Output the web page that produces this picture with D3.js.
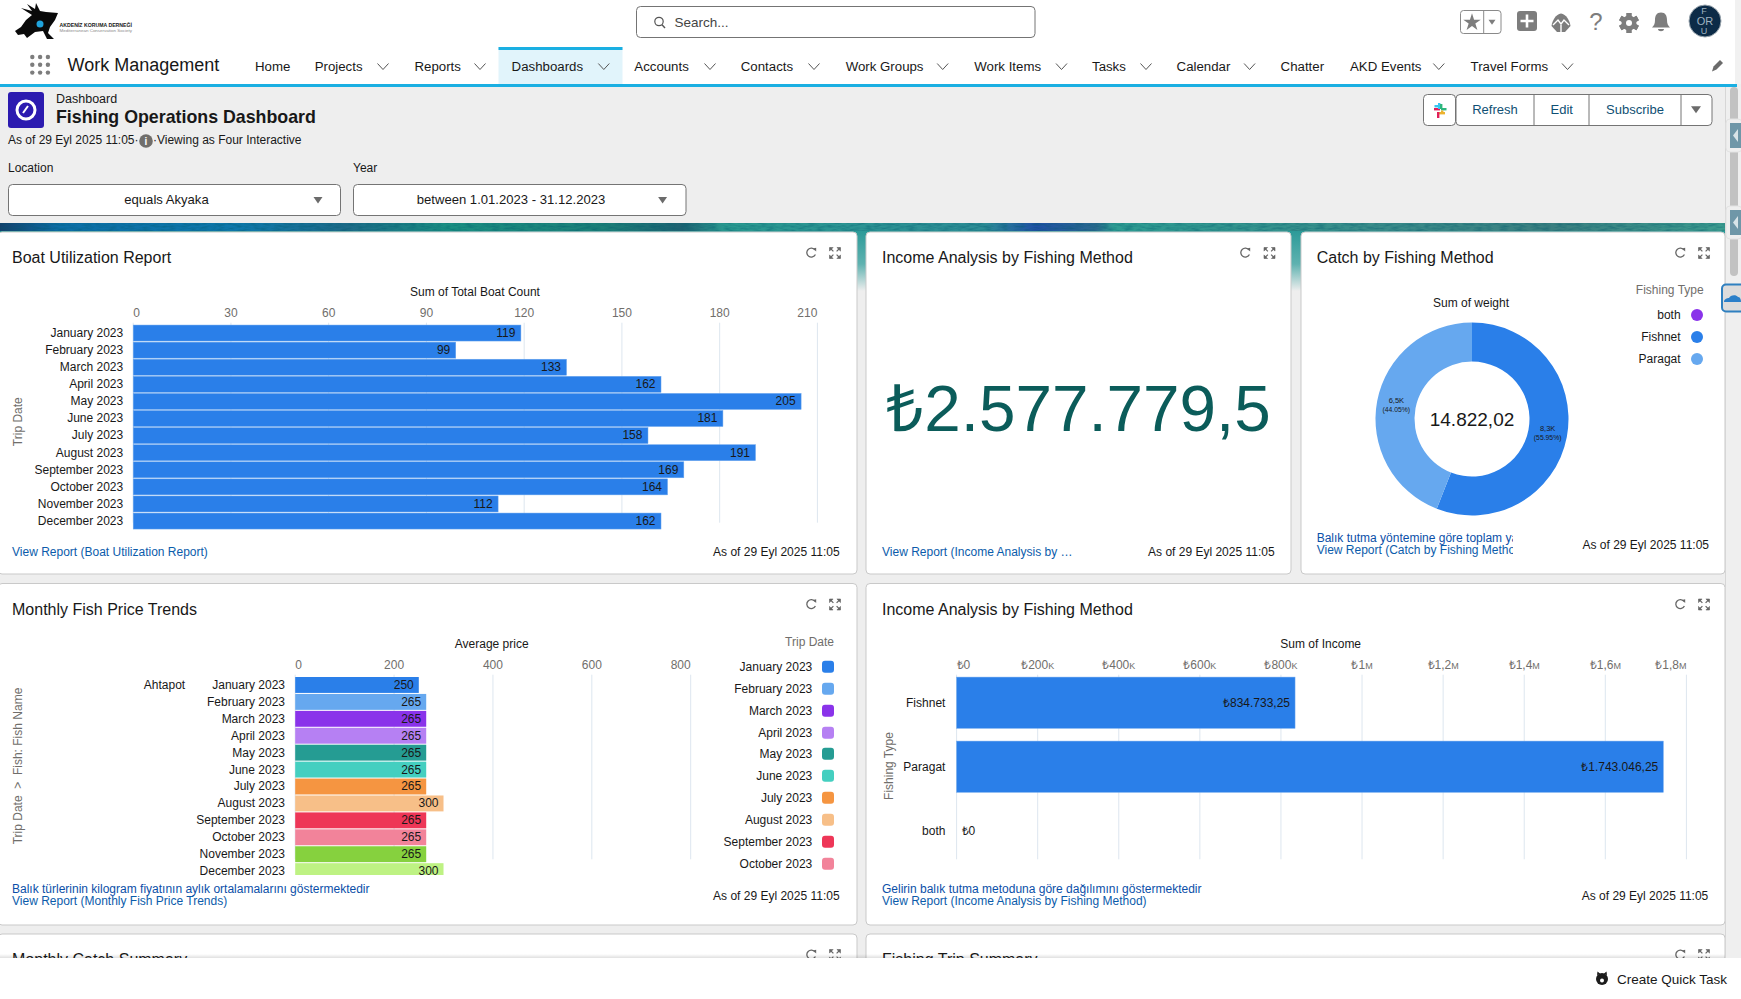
<!DOCTYPE html>
<html><head><meta charset="utf-8">
<script src="https://cdn.jsdelivr.net/npm/d3@7"></script>
<style>
html,body{margin:0;padding:0;background:#eee;overflow:hidden}
svg{display:block;font-family:"Liberation Sans",Arial,sans-serif}
</style></head><body><div id="c"></div>
<script>
// ---------- data ----------
const months=["January 2023","February 2023","March 2023","April 2023","May 2023","June 2023","July 2023","August 2023","September 2023","October 2023","November 2023","December 2023"];
const boatCounts=[119,99,133,162,205,181,158,191,169,164,112,162];
const boatTicks=[0,30,60,90,120,150,180,210];
const fishPrices=[250,265,265,265,265,265,265,300,265,265,265,300];
const priceTicks=[0,200,400,600,800];
const monthColors=["#2a7fe9","#66a8ef","#8a33ea","#b680f3","#259c93","#44cfc0","#f59541","#f7bf88","#ee3657","#f2839a","#86d13e","#bef283"];
const fishingTypes=["Fishnet","Paragat","both"];
const incomes=[834733.25,1743046.25,0];
const incomeLabels=["₺834.733,25","₺1.743.046,25","₺0"];
const incomeTicks=[0,200000,400000,600000,800000,1000000,1200000,1400000,1600000,1800000];
const incomeTickLabels=["₺0","₺200K","₺400K","₺600K","₺800K","₺1M","₺1,2M","₺1,4M","₺1,6M","₺1,8M"];
const weightTypes=["Fishnet","Paragat"];
const weights=[8292.9,6529.12];
const weightLabels=[["8,3K","(55.95%)"],["6,5K","(44.05%)"]];
const legendTypes=["both","Fishnet","Paragat"];
const legendTypeColors=["#8a33ea","#2a7fe9","#66a8ef"];
const navItems=["Home","Projects","Reports","Dashboards","Accounts","Contacts","Work Groups","Work Items","Tasks","Calendar","Chatter","AKD Events","Travel Forms"];
const navX=[255,314.7,414.5,511.6,634.3,740.8,845.7,974.3,1092,1176.6,1280.6,1350,1470.6];
const navChev=[null,383,480,603.8,710,814,942.7,1061.5,1146,1249.6,null,1438.8,1567.5];

// ---------- helpers ----------
const W=1741,H=999,INK="#181818",GREY="#706e6b",GRID="#dde6ef",LINK="#0b5cab",LINK2="#0b4fa8",EDGE="#6aa6ee";
const svg=d3.select("#c").append("svg").attr("width",W).attr("height",H);
const defs=svg.append("defs");
function txt(p,x,y,s,o={}){
  const t=p.append("text").attr("x",x).attr("y",y).attr("dy",".35em").text(s)
    .attr("font-size",o.size||12).attr("fill",o.fill||INK).attr("text-anchor",o.anchor||"start");
  if(o.weight)t.attr("font-weight",o.weight);
  if(o.rotate)t.attr("transform",`rotate(${o.rotate} ${x} ${y})`);
  if(o.len)t.attr("textLength",o.len).attr("lengthAdjust","spacingAndGlyphs");
  return t;
}
function rect(p,x,y,w,h,o={}){
  return p.append("rect").attr("x",x).attr("y",y).attr("width",w).attr("height",h)
    .attr("rx",o.r||0).attr("fill",o.fill||"none").attr("stroke",o.stroke||"none").attr("stroke-width",o.sw||1);
}
function chevron(p,x,y){p.append("path").attr("d",`M${x-5.5},${y-3}L${x},${y+3}L${x+5.5},${y-3}`).attr("fill","none").attr("stroke","#555").attr("stroke-width",1)}
function caret(p,x,y,c="#6b6b6b",s=4.5){p.append("path").attr("d",`M${x-s},${y-s*.65}L${x+s},${y-s*.65}L${x},${y+s*.75}Z`).attr("fill",c)}
function clip(id,x,y,w,h){defs.append("clipPath").attr("id",id).append("rect").attr("x",x).attr("y",y).attr("width",w).attr("height",h)}
function cardIcons(p,x1,x2,y){
  p.append("path").attr("d",`M${x1+4},${y-3}A4.5,4.5 0 1 0 ${x1+4.4},${y+1.5}`).attr("fill","none").attr("stroke","#666").attr("stroke-width",1.3);
  p.append("path").attr("d",`M${x1+1.8},${y-4.6}L${x1+5.2},${y-5.2}L${x1+5.2},${y-1.6}Z`).attr("fill","#666");
  [[-1,-1],[1,-1],[-1,1],[1,1]].forEach(([a,b])=>{
    p.append("path").attr("d",`M${x2+a*5.5},${y+b*5.5}l${-a*3.6},0l${a*3.6},${-b*3.6}Z`).attr("fill","#666").attr("stroke","#666").attr("stroke-width",.6);
    p.append("path").attr("d",`M${x2+a*5},${y+b*5}L${x2+a*1.6},${y+b*1.6}`).attr("stroke","#666").attr("stroke-width",1.2);
  });
}
function xAxis(p,scale,ticks,labels,tickY,gridTop,gridBottom){
  const ax=d3.axisTop(scale).tickValues(ticks).tickSize(0).tickPadding(0).offset(0);
  if(labels)ax.tickFormat((d,i)=>labels[i]);
  const g=p.append("g").attr("transform",`translate(0,${tickY+4})`).call(ax);
  g.select(".domain").remove();
  g.selectAll("text").attr("font-size",12).attr("font-family","inherit").attr("fill",GREY)
    .attr("text-anchor",(d,i)=>i===0?"start":i===ticks.length-1?"end":"middle");
  g.selectAll("text").each(function(){
    const s=d3.select(this),v=s.text(),m=v.match(/^(.*)([KM])$/);
    if(m){s.text(m[1]);s.append("tspan").attr("font-size",9).text(m[2]);}
  });
  p.insert("g",":first-child").selectAll("line").data(ticks).join("line")
    .attr("x1",d=>scale(d)).attr("x2",d=>scale(d)).attr("y1",gridTop).attr("y2",gridBottom)
    .attr("stroke",GRID).attr("stroke-width",1);
}
function card(x,y,w,h,title,ix1,ix2,tx){
  rect(svg,x,y,w,h,{r:4,fill:"#fff",stroke:"#c9c9c9"});
  if(title)txt(svg,tx,y+25.5,title,{size:16});
  cardIcons(svg,ix1,ix2,y+21);
}

// ---------- page ----------
rect(svg,0,0,W,H,{fill:"#eee"});
const band=defs.append("linearGradient").attr("id","band");
[[0,"#14406c"],[.035,"#0c6ea6"],[.14,"#0f78ab"],[.2,"#1d6a88"],[.26,"#1a8f82"],[.35,"#1c7f78"],[.395,"#1e6272"],[.42,"#2a9a90"],[.57,"#2d8d96"],[.6,"#1f4fa5"],[.635,"#2a6a8e"],[.645,"#2d9c92"],[.8,"#3a8c8a"],[.9,"#3a7f80"],[1,"#3c9c8f"]]
 .forEach(([o,c])=>band.append("stop").attr("offset",o).attr("stop-color",c));
rect(svg,0,223,1727,9,{fill:"url(#band)"});
const noise=defs.append("filter").attr("id","grain").attr("x",0).attr("y",0).attr("width",1).attr("height",1);
noise.append("feTurbulence").attr("type","fractalNoise").attr("baseFrequency","0.12 0.5").attr("numOctaves",2).attr("seed",4);
noise.append("feColorMatrix").attr("values","0 0 0 0 0  0 0 0 0 0.1  0 0 0 0 0.15  1.6 0 0 0 -0.6");
rect(svg,0,223,1727,9,{fill:"#000"}).attr("filter","url(#grain)").attr("opacity",.55);
const fade=defs.append("linearGradient").attr("id","fade").attr("x2",0).attr("y2",1);
fade.append("stop").attr("offset",0).attr("stop-color","#2c9a98");
fade.append("stop").attr("offset",.55).attr("stop-color","#5fb2b0");
fade.append("stop").attr("offset",1).attr("stop-color","#eeeeee");
rect(svg,0,231,1727,60,{fill:"url(#fade)"});

// header
rect(svg,0,0,1735,84,{fill:"#fff"});
rect(svg,1735,0,6,84,{fill:"#f1f1f1"});
svg.append("path").attr("fill","#0a0a0a").attr("d","M15,31L21,27L26,20L32,15L21,8L32,11L27,4L35,9L36,3L40,11L46,12L58,13L55,20L50,27L48,33L54,39L47,39L43,31L35,32L27,38L24,34L18,35Z");
svg.append("circle").attr("cx",40).attr("cy",24).attr("r",3.5).attr("fill","#1fa3dc");
txt(svg,59.5,25,"AKDENİZ KORUMA DERNEĞİ",{size:5.3,weight:"bold",len:72.5});
txt(svg,59.5,30,"Mediterranean Conservation Society",{size:4.4,fill:"#8a8a8a",len:72.5});
rect(svg,636.5,6.5,398.5,31,{r:4,fill:"#fff",stroke:"#747474"});
svg.append("circle").attr("cx",659).attr("cy",21.5).attr("r",4.2).attr("fill","none").attr("stroke","#555").attr("stroke-width",1.2);
svg.append("line").attr("x1",662).attr("y1",24.8).attr("x2",665).attr("y2",28).attr("stroke","#555").attr("stroke-width",1.4);
txt(svg,674.5,22.5,"Search...",{size:13.5,fill:"#444"});
// right header icons
rect(svg,1460.5,10.5,40.5,23,{r:3,fill:"#fff",stroke:"#8a8a8a"});
svg.append("line").attr("x1",1483.7).attr("x2",1483.7).attr("y1",10.5).attr("y2",33.5).attr("stroke","#8a8a8a");
svg.append("path").attr("fill","#7d7d7d").attr("d",d3.symbol(d3.symbolStar,95)()).attr("transform","translate(1472,22.5)");
caret(svg,1492,22,"#7d7d7d",3.5);
rect(svg,1517,11,20,20,{r:3,fill:"#7d7d7d"});
svg.append("path").attr("d","M1527,14.5V27.5M1520.5,21H1533.5").attr("stroke","#fff").attr("stroke-width",2.6);
svg.append("path").attr("fill","#7d7d7d").attr("d","M1561,13.5C1566,14 1570,21 1570.5,26L1565,32H1557L1551.5,26C1552,21 1556,14 1561,13.5Z");
svg.append("path").attr("fill","none").attr("stroke","#fff").attr("stroke-width",1.4).attr("d","M1553,25L1558,20L1561,24L1564,20L1569,25M1561,25V32");
txt(svg,1596,22,"?",{size:24,fill:"#7d7d7d",anchor:"middle"});
d3.range(6).forEach(i=>rect(svg,1626.5,13,5,20,{fill:"#7d7d7d"}).attr("transform",`rotate(${i*60} 1629 23)`).attr("height",20));
svg.append("circle").attr("cx",1629).attr("cy",23).attr("r",7.5).attr("fill","#7d7d7d");
svg.append("circle").attr("cx",1629).attr("cy",23).attr("r",3).attr("fill","#fff");
svg.append("path").attr("fill","#7d7d7d").attr("d","M1661,12.5C1665.5,12.5 1667,16 1667,20C1667,24 1668,25.5 1670,27.5H1652C1654,25.5 1655,24 1655,20C1655,16 1656.5,12.5 1661,12.5ZM1658,29H1664C1664,32 1658,32 1658,29Z");
svg.append("circle").attr("cx",1705).attr("cy",21).attr("r",16).attr("fill","#0c2b47").attr("stroke","#9aa5ad");
txt(svg,1704,11,"F",{size:9,fill:"#9fb2c0",anchor:"middle"});
txt(svg,1705,21,"OR",{size:11,fill:"#9fb2c0",anchor:"middle"});
txt(svg,1704,31,"U",{size:9,fill:"#9fb2c0",anchor:"middle"});
// nav
rect(svg,498.5,47,124,37,{fill:"#e1f4fb"});
rect(svg,498.5,47,124,3,{fill:"#1aafe2"});
d3.range(3).forEach(i=>d3.range(3).forEach(j=>svg.append("circle").attr("cx",32.3+j*7.8).attr("cy",56.5+i*7.8+.5).attr("r",2.2).attr("fill","#7d7d7d")));
txt(svg,67.5,64.5,"Work Management",{size:18});
svg.selectAll(null).data(navItems).enter().each(function(d,i){txt(svg,navX[i],66.5,d,{size:13.25});if(navChev[i])chevron(svg,navChev[i],66.5)});
svg.append("path").attr("fill","#6b6b6b").attr("d","M1712,71.5L1713.5,66.5L1720,60L1723,63L1716.5,69.5Z");
rect(svg,0,84,1737,3,{fill:"#1aafe2"});

// page header
rect(svg,8,92,36,36,{r:3,fill:"#2c1bb0"});
svg.append("circle").attr("cx",26).attr("cy",110).attr("r",9).attr("fill","none").attr("stroke","#fff").attr("stroke-width",3);
svg.append("path").attr("d","M23,113L28,106").attr("stroke","#fff").attr("stroke-width",2);
txt(svg,56,98.5,"Dashboard",{size:12.5});
txt(svg,56,117,"Fishing Operations Dashboard",{size:17.8,weight:"bold"});
txt(svg,8,140,"As of 29 Eyl 2025 11:05·",{size:12});
svg.append("circle").attr("cx",146).attr("cy",141).attr("r",6.8).attr("fill",GREY);
txt(svg,146,141,"i",{size:10,weight:"bold",fill:"#fff",anchor:"middle"});
txt(svg,153,140,"·Viewing as Four Interactive",{size:12});
txt(svg,8,168,"Location",{size:12});
txt(svg,353,168,"Year",{size:12});
rect(svg,8.5,184.5,332,31,{r:4,fill:"#fff",stroke:"#747474"});
rect(svg,353.5,184.5,332.5,31,{r:4,fill:"#fff",stroke:"#747474"});
txt(svg,166.5,199.5,"equals Akyaka",{size:13.1,anchor:"middle"});
txt(svg,511,199.5,"between 1.01.2023 - 31.12.2023",{size:13.1,anchor:"middle"});
caret(svg,318,200); caret(svg,662.6,200);
// buttons
rect(svg,1423.5,94.5,32,31,{r:4,fill:"#fff",stroke:"#747474"});
[["#e01e5a",1434,108,6,2.4],["#36c5f0",1438,103,2.4,6],["#2eb67d",1441,108,5.5,2.4],["#ecb22e",1439,112,6,2.4],["#36c5f0",1434.5,105,5,2.4],["#e01e5a",1437,112,2.4,6],["#2eb67d",1440,104,2.4,5],["#ecb22e",1441,110.5,2.4,2.4]]
  .forEach(r=>rect(svg,r[1],r[2],r[3],r[4],{fill:r[0]}));
rect(svg,1456,94.5,256,31,{r:4,fill:"#fff",stroke:"#747474"});
svg.append("path").attr("d","M1534,94.5V125.5M1589,94.5V125.5M1681,94.5V125.5").attr("stroke","#747474");
[["Refresh",1495],["Edit",1561.7],["Subscribe",1635]].forEach(b=>txt(svg,b[1],109.5,b[0],{size:13,fill:"#0f4f73",anchor:"middle"}));
caret(svg,1696,109.5,"#6b6b6b",5);

// ---------- row 1 ----------
card(-2,232,859,342,"Boat Utilization Report",811,835,12);
card(866,232,425,342,"Income Analysis by Fishing Method",1245,1269.5,882);
card(1301,232,424,342,"Catch by Fishing Method",1680,1704,1316.7);

// boat chart
const boat=svg.append("g");
const xBoat=d3.scaleLinear().domain([0,210]).range([133.2,817.4]);
const yBoat=d3.scaleBand().domain(months).range([324.5,529.6]).paddingInner(.064).paddingOuter(.032);
xAxis(boat,xBoat,boatTicks,null,312.7,322.7,522.7);
txt(boat,475,291.7,"Sum of Total Boat Count",{anchor:"middle"});
boat.selectAll("rect.b").data(boatCounts).join("rect").attr("class","b")
  .attr("x",xBoat(0)).attr("y",(d,i)=>yBoat(months[i])).attr("width",d=>xBoat(d)-xBoat(0)).attr("height",yBoat.bandwidth())
  .attr("fill","#2a7fe9").attr("stroke",EDGE).attr("stroke-width",.5);
boatCounts.forEach((d,i)=>{
  txt(boat,xBoat(d)-5.5,yBoat(months[i])+7.7,d,{anchor:"end"});
  txt(boat,123.2,yBoat(months[i])+7.7,months[i],{anchor:"end"});
});
txt(boat,18,421.7,"Trip Date",{fill:GREY,anchor:"middle",rotate:-90});
txt(svg,12,551.7,"View Report (Boat Utilization Report)",{fill:LINK});
txt(svg,839.6,551.7,"As of 29 Eyl 2025 11:05",{anchor:"end"});

// KPI
txt(svg,1078.5,408,"₺2.577.779,5",{size:65.6,fill:"#0b5c5a",anchor:"middle"});
txt(svg,882,551.7,"View Report (Income Analysis by …",{fill:LINK});
txt(svg,1274.6,551.7,"As of 29 Eyl 2025 11:05",{anchor:"end"});

// donut
const donut=svg.append("g").attr("transform","translate(1472,419)");
const pie=d3.pie().sort(null)(weights);
const arc=d3.arc().innerRadius(57.5).outerRadius(96.5);
donut.selectAll("path").data(pie).join("path").attr("d",arc).attr("fill",(d,i)=>legendTypeColors[legendTypes.indexOf(weightTypes[i])]);
pie.forEach((p,i)=>{
  const [cx,cy]=arc.centroid(p);
  txt(donut,cx,cy-4.6,weightLabels[i][0],{size:7.5,anchor:"middle"});
  txt(donut,cx,cy+4.6,weightLabels[i][1],{size:6.8,anchor:"middle"});
});
txt(donut,0,0,"14.822,02",{size:19,anchor:"middle"});
txt(svg,1471,303,"Sum of weight",{anchor:"middle"});
txt(svg,1703.7,290,"Fishing Type",{fill:GREY,anchor:"end"});
legendTypes.forEach((t,i)=>{
  txt(svg,1680.6,315+i*22,t,{anchor:"end"});
  svg.append("circle").attr("cx",1697).attr("cy",315+i*22).attr("r",6).attr("fill",legendTypeColors[i]);
});
clip("cf",1316,525,197,40);
const cf=svg.append("g").attr("clip-path","url(#cf)");
txt(cf,1316.7,538,"Balık tutma yöntemine göre toplam ya",{fill:LINK2});
txt(cf,1316.7,550,"View Report (Catch by Fishing Method)",{fill:LINK});
txt(svg,1709,545,"As of 29 Eyl 2025 11:05",{anchor:"end"});

// ---------- row 2 ----------
card(-2,583.5,859,341.5,"Monthly Fish Price Trends",811,835,12);
card(866,583.5,859,341.5,"Income Analysis by Fishing Method",1680,1704,882);

clip("pc",0,650,857,225);
const price=svg.append("g");
const priceBars=svg.append("g").attr("clip-path","url(#pc)");
const priceText=svg.append("g");
const xPrice=d3.scaleLinear().domain([0,800]).range([295.2,690.7]);
const yPrice=d3.scaleBand().domain(months).range([676.5,879.6]).paddingInner(.06).paddingOuter(.03);
xAxis(price,xPrice,priceTicks,null,664.7,674.7,859.3);
txt(svg,491.7,643.7,"Average price",{anchor:"middle"});
priceBars.selectAll("rect.b").data(fishPrices).join("rect").attr("class","b")
  .attr("x",xPrice(0)).attr("y",(d,i)=>yPrice(months[i])).attr("width",d=>xPrice(d)-xPrice(0)).attr("height",yPrice.bandwidth())
  .attr("fill",(d,i)=>monthColors[i]);
fishPrices.forEach((d,i)=>{
  txt(priceText,xPrice(d)-5,yPrice(months[i])+7.7,d,{anchor:"end"});
  txt(priceText,285,yPrice(months[i])+7.7,months[i],{anchor:"end"});
});
txt(priceText,185.2,yPrice(months[0])+7.7,"Ahtapot",{anchor:"end"});
txt(svg,18,766,"Trip Date  >  Fish: Fish Name",{fill:GREY,anchor:"middle",rotate:-90}).style("white-space","pre");
txt(svg,834,641.7,"Trip Date",{fill:GREY,anchor:"end"});
months.slice(0,10).forEach((m,i)=>{
  const y=666.7+i*22-(i>=4?1:0);
  txt(svg,812.3,y,m,{anchor:"end"});
  rect(svg,822,y-6,12,12,{r:3,fill:monthColors[i]});
});
txt(svg,12,888.7,"Balık türlerinin kilogram fiyatının aylık ortalamalarını göstermektedir",{fill:LINK2});
txt(svg,12,900.7,"View Report (Monthly Fish Price Trends)",{fill:LINK});
txt(svg,839.6,895.7,"As of 29 Eyl 2025 11:05",{anchor:"end"});

const inc=svg.append("g");
const xInc=d3.scaleLinear().domain([0,1800000]).range([956.6,1686.4]);
const yInc=d3.scaleBand().domain(fishingTypes).range([670.7,862.7]).paddingInner(.2).paddingOuter(.1);
xAxis(inc,xInc,incomeTicks,incomeTickLabels,664.7,674.7,859.3);
txt(inc,1320.7,643.7,"Sum of Income",{anchor:"middle"});
inc.selectAll("rect.b").data(incomes).join("rect").attr("class","b")
  .attr("x",xInc(0)).attr("y",(d,i)=>yInc(fishingTypes[i])).attr("width",d=>xInc(d)-xInc(0)).attr("height",yInc.bandwidth())
  .attr("fill","#2a7fe9").attr("stroke",d=>d>0?EDGE:"none").attr("stroke-width",.5);
incomes.forEach((d,i)=>{
  const y=yInc(fishingTypes[i])+yInc.bandwidth()/2;
  txt(inc,945.4,y,fishingTypes[i],{anchor:"end"});
  if(d>0)txt(inc,xInc(d)-5,y,incomeLabels[i],{anchor:"end"});
  else txt(inc,xInc(d)+5,y,incomeLabels[i]);
});
txt(inc,888.6,766,"Fishing Type",{fill:GREY,anchor:"middle",rotate:-90});
txt(svg,882,888.7,"Gelirin balık tutma metoduna göre dağılımını göstermektedir",{fill:LINK2});
txt(svg,882,900.7,"View Report (Income Analysis by Fishing Method)",{fill:LINK});
txt(svg,1708.3,895.7,"As of 29 Eyl 2025 11:05",{anchor:"end"});

// ---------- row 3 (cut off) ----------
card(-2,934,859,80,"Monthly Catch Summary",811,835,12);
card(866,934,859,80,"Fishing Trip Summary",1680,1704,882);

// ---------- bottom utility bar ----------
const sh=defs.append("linearGradient").attr("id","sh").attr("x2",0).attr("y2",1);
sh.append("stop").attr("offset",0).attr("stop-color","#000").attr("stop-opacity",0);
sh.append("stop").attr("offset",1).attr("stop-color","#000").attr("stop-opacity",.12);
rect(svg,0,954,1727,4,{fill:"url(#sh)"});
rect(svg,0,958,1741,41,{fill:"#fff"});
svg.append("circle").attr("cx",1602).attr("cy",979).attr("r",6).attr("fill","#1c1c1c");
svg.append("path").attr("d","M1597,975L1597.5,971.5L1600.5,974ZM1607,975L1606.5,971.5L1603.5,974Z").attr("fill","#1c1c1c");
svg.append("circle").attr("cx",1602).attr("cy",980.5).attr("r",2).attr("fill","#fff");
txt(svg,1727,979,"Create Quick Task",{size:13.5,anchor:"end"});

// ---------- scrollbar and side tabs ----------
rect(svg,1726,87,15,871,{fill:"#efefef"});
svg.append("line").attr("x1",1725.5).attr("x2",1725.5).attr("y1",87).attr("y2",958).attr("stroke","#d6d6d6");
rect(svg,1730,87,8,189,{r:4,fill:"#c2c2c2"});
[119,206].forEach(y=>{
  rect(svg,1726,y,16,33,{r:4,fill:"#efefef",stroke:"#e2e2e2"});
  rect(svg,1730,y+4,11,25,{fill:"#6f97a8"});
  svg.append("path").attr("d",`M1738,${y+10}L1733,${y+16.5}L1738,${y+23}Z`).attr("fill","#d9e4e8");
});
rect(svg,1722,284.5,22,27,{r:4,fill:"#dcdcdc",stroke:"#2f80c0",sw:2});
svg.append("path").attr("fill","#2a7fc9").attr("d","M1724,302C1724,299 1727,298 1729,298C1730,295 1736,294 1738,297C1740,297 1741,299 1741,302Z");
</script></body></html>
